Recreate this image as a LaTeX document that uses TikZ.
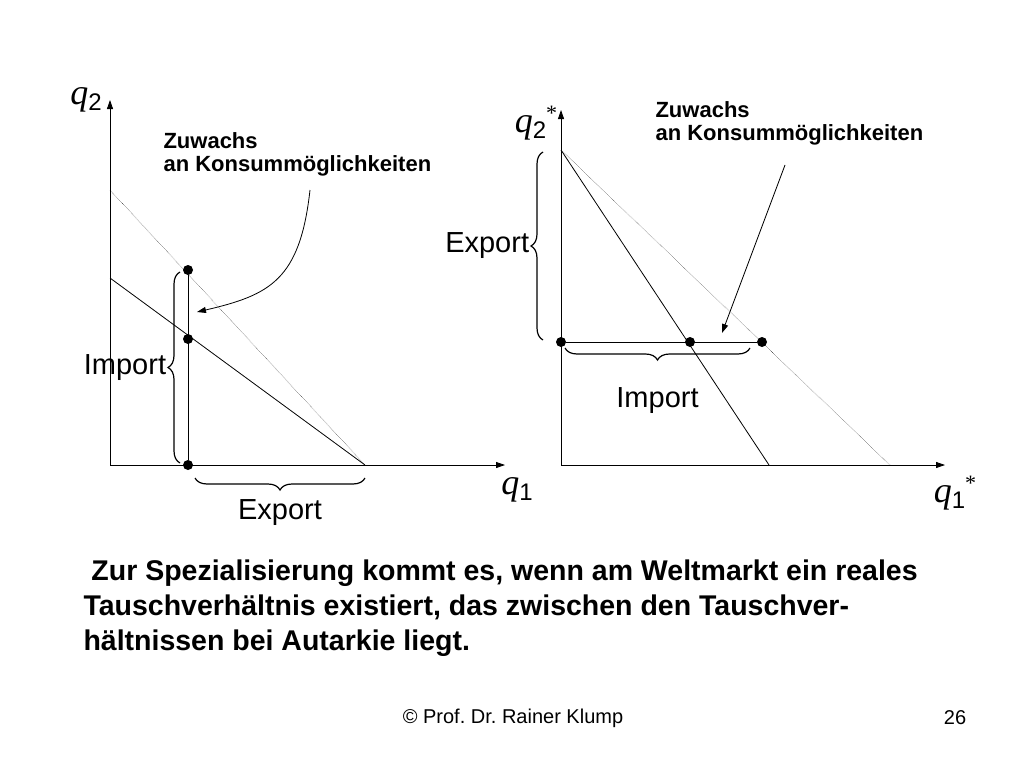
\documentclass[tikz,border=0pt]{standalone}
\usepackage{fontspec}
\setmainfont{Liberation Sans}
\newfontfamily\qfont{Liberation Serif}
\usetikzlibrary{decorations.pathreplacing,arrows.meta}
\frenchspacing
\tikzset{
  axis/.style={thick,-{Triangle[length=9pt,width=6pt]}},
  budget/.style={thick},
  trade/.style={thin,densely dotted},
  pt/.style={circle,fill,inner sep=0pt,minimum size=10pt},
  bracebig/.style={very thick,decorate,decoration={brace,amplitude=12pt}},
  lbl/.style={font=\fontsize{29}{32}\selectfont},
  qlbl/.style={font=\fontsize{36}{38}\selectfont\qfont\itshape},
  small/.style={font=\fontsize{22}{23}\selectfont\bfseries,align=left,anchor=west}
}
\newcommand{\qsym}[2]{q\raisebox{-6pt}{\fontsize{24}{24}\selectfont\upshape\rmfamily #1}#2}
\newcommand{\qstar}{\raisebox{12pt}{\fontsize{22}{22}\selectfont\upshape *}}
\begin{document}
\begin{tikzpicture}[x=1pt,y=-1pt]
\useasboundingbox[fill=white] (0,0) rectangle (1024,768);
% left graph: home country
\coordinate (O) at (110,465);
\draw[axis] (O) -- (110,100);
\draw[axis] (O) -- (505,465);
\node[qlbl] (q2) at (86,100) {\qsym{2}{}};
\node[qlbl] (q1) at (517,490) {\qsym{1}{}};
\coordinate (t1) at (110,190);
\coordinate (b1) at (110,278);
\coordinate (x1) at (365,465);
\draw[trade] (t1) -- (x1);
\draw[budget] (b1) -- (x1);
\node[pt] (c1) at (188,270) {};
\node[pt] (p1) at (188,339) {};
\node[pt] (s1) at (188,465) {};
\draw[budget] (c1) -- (s1);
\draw[bracebig] (180,463) -- (180,272) node[midway,left=10pt,lbl] (imp1) {Import};
\draw[bracebig] (365,478) -- (195,478) node[midway,below=18pt,lbl] (exp1) {Export};
\node[small] (zw1) at (160,154) {Zuwachs\\an Konsummöglichkeiten};
\coordinate (a1) at (310,190);
\coordinate (e1) at (197,312);
\draw[thick,-{Triangle[length=9pt,width=6pt]}] (a1) .. controls (300,280) and (270,295) .. (e1);
% right graph: foreign country
\coordinate (O2) at (561,465);
\draw[axis] (O2) -- (561,110);
\draw[axis] (O2) -- (945,465);
\node[qlbl] (q2s) at (536,123) {\qsym{2}{\qstar}};
\node[qlbl] (q1s) at (955,493) {\qsym{1}{\qstar}};
\coordinate (t2) at (561,150);
\coordinate (x2) at (769,465);
\coordinate (y2) at (890,465);
\draw[budget] (t2) -- (x2);
\draw[trade] (t2) -- (y2);
\node[pt] (s2) at (561,342) {};
\node[pt] (p2) at (690,342) {};
\node[pt] (c2) at (762,342) {};
\draw[budget] (s2) -- (c2);
\draw[bracebig] (543,340) -- (543,152) node[midway,left=10pt,lbl] (exp2) {Export};
\draw[bracebig] (750,348) -- (565,348) node[midway,below=36pt,lbl] (imp2) {Import};
\node[small] (zw2) at (652,123) {Zuwachs\\an Konsummöglichkeiten};
\coordinate (a2) at (785,165);
\coordinate (e2) at (722,333);
\draw[thick,-{Triangle[length=9pt,width=6pt]}] (a2) -- (e2);
% text
\node[anchor=north west,align=left,font=\fontsize{28.5}{35}\selectfont\bfseries] (txt) at (80,556)
  {\ Zur Spezialisierung kommt es, wenn am Weltmarkt ein reales\\
   Tauschverhältnis existiert, das zwischen den Tauschver-\\
   hältnissen bei Autarkie liegt.};
\node[font=\fontsize{20}{24}\selectfont] (foot) at (513,718) {© Prof. Dr. Rainer Klump};
\node[font=\fontsize{20}{24}\selectfont] (page) at (955,718) {26};
\end{tikzpicture}
\end{document}
